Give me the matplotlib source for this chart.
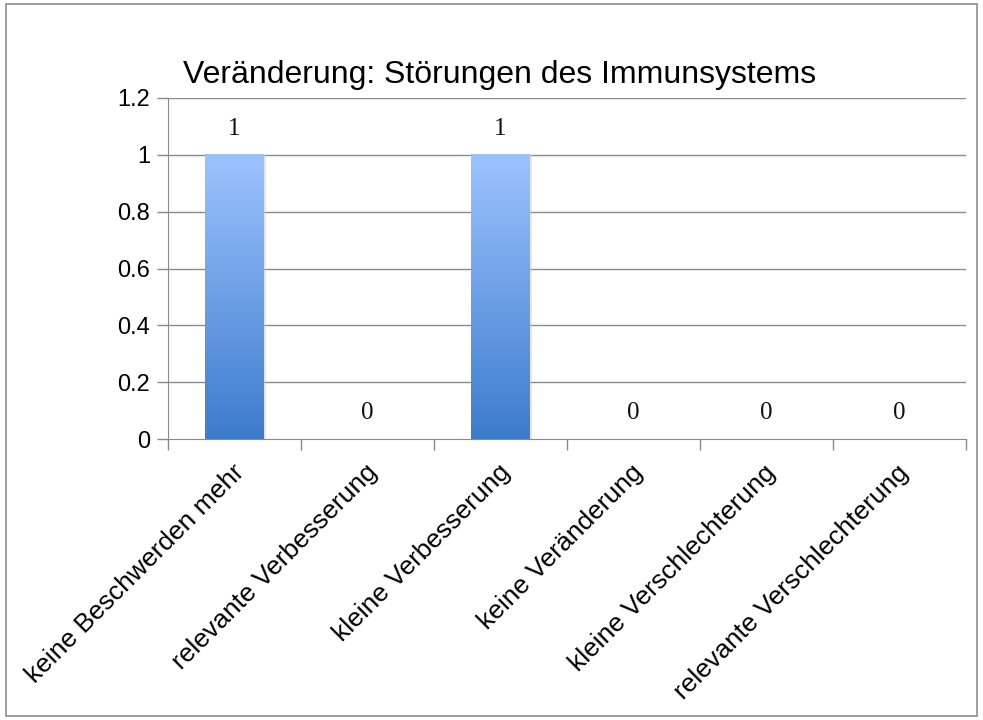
import numpy as np
import matplotlib
matplotlib.use("Agg")
import matplotlib.pyplot as plt
from matplotlib.patches import Rectangle
from matplotlib.colors import LinearSegmentedColormap

categories = ["keine Beschwerden mehr", "relevante Verbesserung", "kleine Verbesserung",
              "keine Veränderung", "kleine Verschlechterung", "relevante Verschlechterung"]
values = [1, 0, 1, 0, 0, 0]
yticks = [0, 0.2, 0.4, 0.6, 0.8, 1.0, 1.2]
ytick_labels = ["0", "0.2", "0.4", "0.6", "0.8", "1", "1.2"]
title = "Veränderung: Störungen des Immunsystems"

plt.rcParams['font.family'] = ['Liberation Sans', 'DejaVu Sans']

fig = plt.figure(figsize=(9.83, 7.2), dpi=100)
W, H = 983, 720
ax = fig.add_axes([168 / W, 1 - 439 / H, (966 - 168) / W, (439 - 98) / H])

# outer border
fig.patches.append(Rectangle((6 / W, 4 / H), (977 - 6) / W, (716 - 4) / H, transform=fig.transFigure,
                             fill=False, edgecolor="#8c8c8c", linewidth=1.2))

x = np.arange(len(categories))

for yv in yticks[1:]:
    ax.axhline(yv, color="#8a8a8a", linewidth=1.0, zorder=0)

cmap = LinearSegmentedColormap.from_list("g", ["#3d7ccc", "#9dc3ff"])
grad = np.linspace(0, 1, 256).reshape(-1, 1)
bars = ax.bar(x, values, width=0.44, color="none", edgecolor="none", zorder=2)
for b in bars:
    h = b.get_height()
    if h <= 0:
        continue
    x0 = b.get_x()
    w = b.get_width()
    ax.add_patch(Rectangle((x0 + 0.01, 0), w + 0.01, h, color="#cccccc", alpha=0.5, zorder=1.5, linewidth=0))
    ax.imshow(grad, extent=[x0, x0 + w, 0, h], origin="lower", aspect="auto", cmap=cmap, zorder=2)
ax.set_xlim(-0.5, len(categories) - 0.5)
ax.set_ylim(0, 1.2)

for xi, v in zip(x, values):
    ax.text(xi, v + 0.09, f"{v}", ha="center", va="center", fontsize=18,
            family=["Liberation Serif", "DejaVu Serif"], color="#111111")

ax.set_yticks(yticks)
ax.set_yticklabels(ytick_labels, fontsize=17)
ax.set_xticks(np.arange(len(categories) + 1) - 0.5, minor=False)
ax.set_xticklabels([])
ax.tick_params(axis="x", length=8, color="#8a8a8a", width=1)
ax.tick_params(axis="y", length=8, color="#8a8a8a", width=1, pad=5)

for xi, c in zip(x, categories):
    ax.text(xi - 0.02, -0.075, c, rotation=45, rotation_mode="anchor", ha="right", va="top",
            fontsize=19, transform=ax.transData)

for s in ["top", "right"]:
    ax.spines[s].set_visible(False)
ax.spines["left"].set_color("#8a8a8a")
ax.spines["bottom"].set_color("#8a8a8a")

fig.text(500 / W, 1 - 75 / H, title, ha="center", va="center", fontsize=23)

fig.savefig("out.png", dpi=100)
